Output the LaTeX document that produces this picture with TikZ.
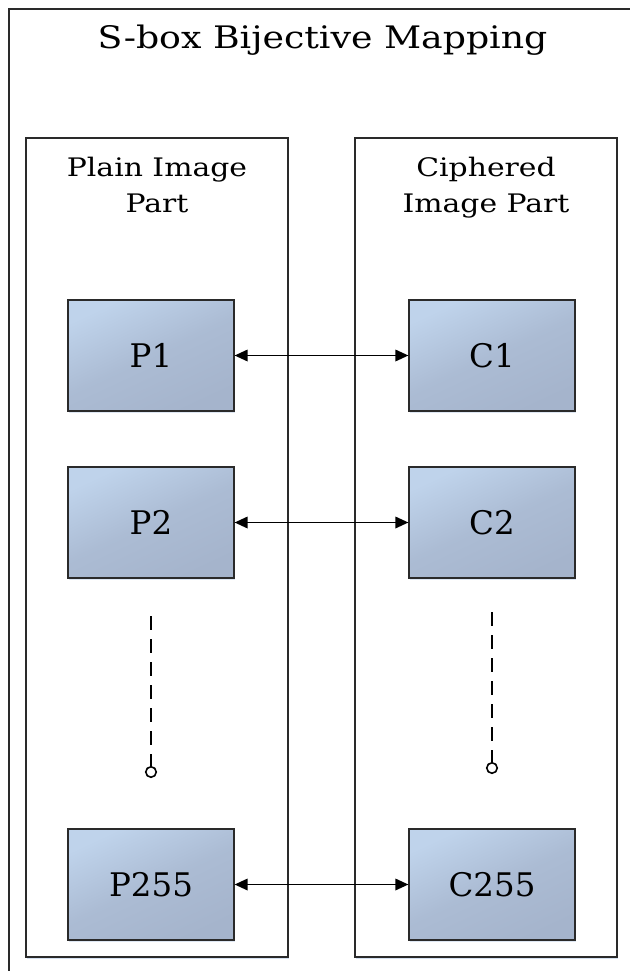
\documentclass[tikz,border=0pt]{standalone}
\usepackage{fontspec}
\setmainfont{DejaVu Serif}
\newfontfamily\widefont[FakeStretch=1.17]{DejaVu Serif}
\usetikzlibrary{arrows.meta,shadows}
\definecolor{boxlight}{HTML}{BFD3EB}
\definecolor{boxdark}{HTML}{A5B4CC}
\definecolor{frameline}{HTML}{2A2A2A}
\definecolor{shadowblue}{HTML}{C9D8EC}
\begin{document}
\begin{tikzpicture}[x=1pt,y=-1pt,
  container/.style={draw=frameline, line width=1.6pt, fill=white,
    minimum width=262pt, minimum height=819pt, inner sep=0pt,
    drop shadow={fill=shadowblue, opacity=0.8, shadow xshift=1pt, shadow yshift=-2pt}},
  partlabel/.style={align=center, anchor=north, inner sep=0pt,
    font=\widefont\fontsize{25.5}{36}\selectfont},
  cellbox/.style={draw=frameline, line width=1.2pt,
    minimum width=166pt, minimum height=111pt, inner sep=0pt,
    top color=boxlight, bottom color=boxdark, middle color=boxdark!75!boxlight,
    shading angle=25,
    drop shadow={fill=shadowblue, opacity=0.6, shadow xshift=1pt, shadow yshift=-2pt},
    font=\fontsize{32.5}{38}\selectfont},
  maparrow/.style={{Triangle[length=13pt,width=11.5pt]}-{Triangle[length=13pt,width=11.5pt]}, line width=1.8pt},
  dots/.style={line width=1.7pt, dash pattern=on 14pt off 9pt},
  endcircle/.style={circle, draw, line width=1.6pt, fill=white, minimum size=10.5pt, inner sep=0pt}
]
\useasboundingbox (0,0) rectangle (630,971);
% outer frame (only top and left edges visible)
\draw[frameline, line width=1.5pt] (9,971) -- (9,9) -- (630,9);
\node[anchor=base, inner sep=0pt, font=\widefont\fontsize{31}{36}\selectfont] (title) at (322.5,49) {S-box Bijective Mapping};

% containers
\node[container] (plain) at (157,547.5) {};
\node[container] (ciph) at (486,547.5) {};
\node[partlabel] (plainlbl) at (157,157) {Plain Image\\Part};
\node[partlabel] (ciphlbl) at (486,157) {Ciphered\\Image Part};

% cells
\node[cellbox] (P1) at (151,355.5) {P1};
\node[cellbox] (C1) at (492,355.5) {C1};
\node[cellbox] (P2) at (151,522.5) {P2};
\node[cellbox] (C2) at (492,522.5) {C2};
\node[cellbox] (P255) at (151,884.5) {P255};
\node[cellbox] (C255) at (492,884.5) {C255};

% mappings
\draw[maparrow] (P1.east) -- (C1.west);
\draw[maparrow] (P2.east) -- (C2.west);
\draw[maparrow] (P255.east) -- (C255.west);

% ellipsis lines
\coordinate (ltop) at (151,616);
\node[endcircle] (lend) at (151,772) {};
\coordinate (rtop) at (492,612);
\node[endcircle] (rend) at (492,768) {};
\draw[dots] (ltop) -- (lend.north);
\draw[dots] (rtop) -- (rend.north);
\end{tikzpicture}
\end{document}
